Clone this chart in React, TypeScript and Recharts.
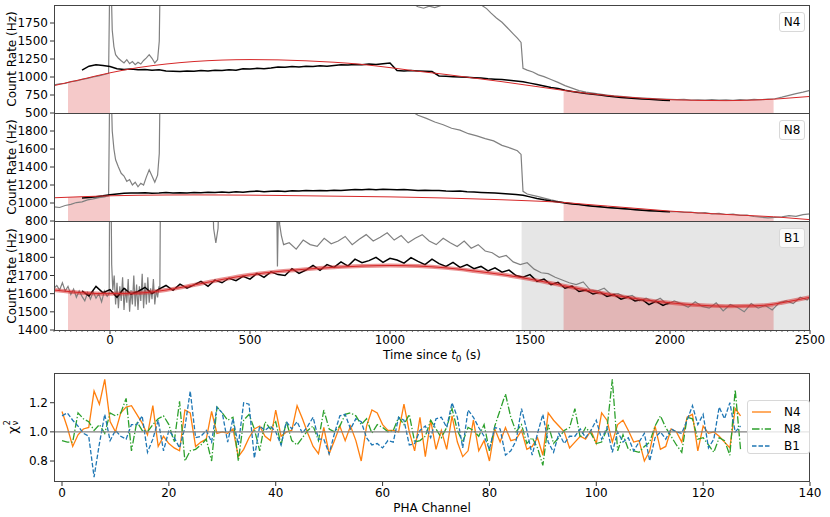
import React from 'react'
import { ComposedChart, Line, Area, XAxis, YAxis, ReferenceArea, ReferenceLine } from 'recharts'

const FONT = '"DejaVu Sans", Verdana, sans-serif'
const RED = '#d62728'
const GRAY = '#808080'

// background-fit intervals (s) and the B1 excluded region
const BKG_INTERVALS = [[-150, 0], [1620, 2370]]
const B1_EXCLUDED = [1470, 2500]

const TIME_TICKS = Array.from({ length: 136 }, (_, i) => -200 + 20 * i)
const N4_TICKS = [500, 750, 1000, 1250, 1500, 1750]
const N8_TICKS = [800, 1000, 1200, 1400, 1600, 1800]
const B1_TICKS = [1400, 1500, 1600, 1700, 1800, 1900]

// background model (red)
const MODEL_T = [-200, -150, -100, -50, 0, 100, 200, 300, 400, 500, 600, 700, 800, 900, 1000, 1100,
  1200, 1300, 1400, 1500, 1600, 1620, 1700, 1800, 1900, 2000, 2100, 2200, 2300, 2370, 2400, 2500]
const N4_MODEL = [880, 925, 968, 1015, 1058, 1130, 1180, 1215, 1235, 1242, 1238, 1225, 1205, 1175, 1130, 1080,
  1035, 985, 935, 880, 825, 815, 775, 735, 705, 685, 675, 672, 680, 692, 700, 730]
const N8_MODEL = [1058, 1064, 1070, 1075, 1080, 1086, 1089, 1090, 1089, 1087, 1084, 1080, 1076, 1072, 1068, 1062,
  1055, 1046, 1036, 1024, 1010, 1006, 985, 960, 935, 910, 890, 873, 858, 847, 840, 815]
const B1_MODEL = [1620, 1612, 1605, 1601, 1600, 1603, 1620, 1648, 1678, 1704, 1722, 1735, 1745, 1752, 1755, 1752,
  1742, 1725, 1705, 1680, 1650, 1644, 1620, 1592, 1568, 1550, 1537, 1531, 1533, 1542, 1550, 1580]

// source-selected light curves (black), 25 s bins
const BLACK_T = Array.from({ length: 85 }, (_, i) => -100 + 25 * i)
const N4_BLACK = [
  1095, 1150, 1170, 1160, 1145, 1115, 1105, 1110, 1100, 1105,
  1095, 1100, 1085, 1080, 1075, 1085, 1080, 1090, 1085, 1095,
  1090, 1100, 1095, 1115, 1110, 1120, 1115, 1125, 1140, 1135,
  1145, 1140, 1150, 1145, 1155, 1150, 1160, 1170, 1165, 1175,
  1170, 1180, 1175, 1185, 1195, 1090, 1085, 1090, 1085, 1080,
  1075, 1015, 1010, 1005, 1000, 995, 990, 985, 975, 970,
  965, 955, 945, 935, 915, 895, 875, 855, 840, 815,
  800, 785, 770, 760, 750, 735, 725, 715, 710, 700,
  695, 690, 685, 678, 672,
]
const N8_BLACK = [
  1055, 1062, 1070, 1080, 1092, 1100, 1108, 1112, 1110, 1115,
  1108, 1112, 1118, 1110, 1115, 1112, 1118, 1115, 1120, 1116,
  1122, 1118, 1125, 1120, 1128, 1132, 1126, 1130, 1134, 1128,
  1136, 1132, 1138, 1135, 1140, 1136, 1142, 1138, 1145, 1150,
  1146, 1152, 1148, 1154, 1150, 1146, 1150, 1145, 1140, 1143,
  1138, 1140, 1134, 1130, 1132, 1126, 1122, 1118, 1114, 1110,
  1105, 1100, 1095, 1085, 1068, 1050, 1035, 1022, 1012, 1000,
  990, 982, 972, 965, 958, 950, 945, 938, 932, 926,
  920, 915, 910, 906, 902,
]
const B1_BLACK = [
  1615, 1588, 1640, 1605, 1622, 1580, 1630, 1598, 1612, 1635,
  1600, 1625, 1645, 1618, 1652, 1630, 1648, 1668, 1640, 1675,
  1660, 1685, 1672, 1695, 1680, 1712, 1690, 1720, 1705, 1700,
  1738, 1712, 1730, 1755, 1728, 1760, 1745, 1775, 1752, 1790,
  1770, 1782, 1800, 1772, 1795, 1785, 1768, 1798, 1778, 1760,
  1790, 1765, 1750, 1772, 1745, 1760, 1738, 1750, 1725, 1742,
  1718, 1730, 1700, 1690, 1705, 1668, 1680, 1650, 1662, 1630,
  1642, 1612, 1620, 1598, 1608, 1585, 1595, 1570, 1582, 1560,
  1568, 1540, 1558, 1535, 1552,
]

// full-band light curves (gray); values above 2000 run off the top
const N4_GRAY_T = [
  -200, -180, -160, -140, -120, -100, -80, -60, -40, -20,
  -5, 0, 4, 8, 14, 20, 30, 40, 50, 60,
  70, 80, 90, 100, 110, 120, 130, 140, 150, 160,
  170, 176, 180, 600, 1050, 1080, 1100, 1120, 1140, 1160,
  1180, 1200, 1260, 1300, 1330, 1345, 1360, 1380, 1400, 1420,
  1440, 1455, 1468, 1475, 1490, 1510, 1530, 1550, 1575, 1600,
  1625, 1650, 1675, 1700, 1725, 1750, 1775, 1800, 1825, 1850,
  1875, 1900, 1925, 1950, 1975, 2000, 2025, 2050, 2075, 2100,
  2125, 2150, 2175, 2200, 2225, 2250, 2275, 2300, 2325, 2350,
  2375, 2400, 2425, 2450, 2475, 2500,
]
const N4_GRAY = [
  890, 905, 912, 935, 945, 968, 980, 1000, 1015, 1035,
  1050, 2600, 2300, 1650, 1420, 1310, 1260, 1225, 1195, 1240,
  1185, 1215, 1170, 1205, 1180, 1230, 1265, 1310, 1260, 1195,
  1240, 1500, 2600, 2600, 2100, 2020, 1975, 1955, 1985, 1965,
  1990, 2060, 2100, 2060, 1990, 1950, 1890, 1820, 1760, 1680,
  1600, 1540, 1480, 1120, 1095, 1070, 1030, 1005, 965, 925,
  880, 845, 810, 790, 775, 762, 750, 738, 730, 722,
  715, 708, 703, 698, 692, 688, 685, 690, 680, 684,
  678, 686, 680, 683, 677, 685, 680, 688, 684, 692,
  698, 720, 745, 770, 790, 815,
]
const N8_GRAY_T = [
  -200, -180, -160, -140, -120, -100, -80, -60, -40, -20,
  -5, 0, 4, 8, 14, 20, 30, 40, 50, 60,
  70, 80, 90, 100, 110, 120, 130, 140, 150, 160,
  170, 176, 180, 600, 1040, 1070, 1100, 1130, 1160, 1190,
  1220, 1250, 1280, 1310, 1340, 1370, 1400, 1430, 1455, 1468,
  1475, 1490, 1510, 1530, 1550, 1575, 1600, 1625, 1650, 1675,
  1700, 1725, 1750, 1775, 1800, 1825, 1850, 1875, 1900, 1925,
  1950, 1975, 2000, 2025, 2050, 2075, 2100, 2125, 2150, 2175,
  2200, 2225, 2250, 2275, 2300, 2325, 2350, 2375, 2400, 2425,
  2450, 2475, 2500,
]
const N8_GRAY = [
  958, 950, 972, 985, 1005, 1012, 1035, 1045, 1060, 1068,
  1080, 2600, 2300, 1800, 1600, 1480, 1400, 1330, 1300, 1240,
  1260, 1200, 1230, 1180, 1220, 1200, 1290, 1370, 1300, 1230,
  1310, 1550, 2600, 2600, 2100, 2030, 1975, 1940, 1900, 1870,
  1830, 1810, 1770, 1745, 1715, 1690, 1640, 1610, 1580, 1540,
  1130, 1100, 1085, 1070, 1055, 1035, 1018, 1005, 995, 985,
  972, 965, 958, 950, 945, 938, 932, 928, 922, 915,
  912, 906, 903, 905, 895, 898, 888, 892, 880, 884,
  872, 876, 862, 866, 850, 842, 835, 840, 845, 860,
  852, 870, 880,
]
const B1_GRAY_T = [
  -200, -190, -180, -170, -160, -150, -140, -130, -120, -110,
  -100, -90, -80, -70, -60, -50, -40, -30, -20, -10,
  -3, 0, 3, 6, 10, 15, 20, 25, 30, 35,
  40, 45, 50, 55, 60, 65, 70, 75, 80, 85,
  90, 95, 100, 105, 110, 115, 120, 125, 130, 135,
  140, 145, 150, 155, 160, 165, 170, 175, 178, 182,
  360, 370, 378, 386, 396, 592, 598, 602, 606, 612,
  620, 640, 665, 690, 715, 740, 765, 790, 815, 840,
  865, 890, 915, 940, 965, 990, 1015, 1040, 1065, 1090,
  1115, 1140, 1165, 1190, 1215, 1240, 1265, 1290, 1315, 1340,
  1365, 1390, 1415, 1440, 1465, 1490, 1515, 1540, 1565, 1590,
  1615, 1640, 1665, 1690, 1715, 1740, 1765, 1790, 1815, 1840,
  1865, 1890, 1915, 1940, 1965, 1990, 2015, 2040, 2065, 2090,
  2115, 2140, 2165, 2190, 2215, 2240, 2265, 2290, 2315, 2340,
  2365, 2390, 2415, 2440, 2465, 2490, 2500,
]
const B1_GRAY = [
  1630, 1645, 1620, 1660, 1615, 1640, 1595, 1625, 1580, 1615,
  1585, 1560, 1605, 1570, 1610, 1575, 1600, 1555, 1615, 1585,
  1600, 2600, 2300, 1760, 1620, 1700, 1540, 1660, 1520, 1640,
  1560, 1690, 1510, 1630, 1550, 1680, 1500, 1620, 1540, 1700,
  1530, 1650, 1510, 1640, 1560, 1710, 1520, 1660, 1540, 1690,
  1550, 1630, 1570, 1680, 1540, 1620, 1580, 1640, 1620, 2600,
  2600, 1960, 1880, 1960, 2600, 2600, 1750, 2100, 1980, 1920,
  1870, 1880, 1845, 1895, 1870, 1860, 1905, 1875, 1890, 1915,
  1870, 1900, 1925, 1890, 1910, 1935, 1895, 1920, 1880, 1905,
  1925, 1890, 1870, 1905, 1880, 1860, 1890, 1850, 1870, 1835,
  1825, 1800, 1810, 1775, 1760, 1770, 1735, 1715, 1710, 1690,
  1675, 1660, 1650, 1665, 1620, 1615, 1630, 1595, 1600, 1580,
  1590, 1560, 1575, 1555, 1575, 1540, 1560, 1545, 1525, 1555,
  1530, 1520, 1550, 1505, 1540, 1525, 1500, 1545, 1520, 1535,
  1510, 1550, 1560, 1545, 1580, 1565, 1585,
]

// reduced chi-square per PHA channel
const CHANNELS = Array.from({ length: 128 }, (_, i) => i)
const PHA_TICKS = [0, 20, 40, 60, 80, 100, 120, 140]
const CHI_TICKS = [0.8, 1.0, 1.2]
const N4_CHI = [
  1.14, 1.03, 0.90, 0.98, 1.02, 1.03, 1.28, 1.19, 1.36, 1.07,
  1.00, 1.13, 1.17, 1.18, 1.12, 1.06, 0.98, 1.18, 0.90, 0.97,
  0.92, 0.89, 0.87, 1.15, 1.13, 0.90, 0.93, 0.95, 1.14, 0.99,
  1.00, 0.99, 1.02, 0.83, 0.88, 0.96, 1.02, 1.04, 0.97, 0.94,
  1.15, 0.97, 1.00, 1.01, 1.18, 1.09, 0.99, 0.90, 0.85, 1.03,
  0.85, 0.94, 1.04, 0.94, 1.04, 0.94, 0.80, 1.04, 1.15, 1.13,
  1.05, 1.01, 1.01, 1.00, 1.19, 1.00, 0.87, 1.10, 0.83, 1.08,
  0.88, 1.01, 0.88, 1.11, 0.93, 0.83, 0.87, 1.08, 0.87, 0.94,
  0.80, 1.02, 0.93, 1.03, 0.94, 0.95, 1.01, 0.88, 0.90, 0.96,
  0.84, 1.13, 1.08, 1.04, 1.00, 0.89, 0.93, 0.97, 0.95, 1.01,
  0.92, 1.13, 1.08, 0.93, 1.05, 1.08, 1.01, 0.93, 0.94, 0.80,
  0.87, 1.04, 0.88, 0.90, 1.02, 1.00, 0.93, 1.10, 1.12, 0.87,
  1.04, 0.99, 1.00, 0.97, 0.93, 0.89, 1.16, 1.11,
]
const N8_CHI = [
  0.94, 0.93, 0.93, 1.13, 1.09, 1.07, 1.01, 1.05, 0.99, 1.13,
  1.11, 1.13, 1.23, 0.87, 1.07, 1.01, 1.00, 1.05, 1.09, 1.11,
  1.05, 0.93, 1.21, 0.80, 0.87, 0.88, 0.91, 0.95, 0.80, 1.17,
  1.13, 1.08, 1.10, 0.80, 1.08, 1.12, 1.02, 0.87, 1.07, 1.02,
  1.07, 0.91, 1.07, 0.94, 0.91, 0.96, 1.01, 1.04, 0.94, 1.15,
  1.02, 1.00, 1.04, 1.12, 1.13, 1.11, 1.05, 1.09, 0.99, 1.05,
  1.03, 1.00, 1.01, 1.10, 1.05, 1.12, 0.93, 0.94, 0.97, 1.08,
  1.02, 0.96, 1.03, 1.16, 1.01, 0.93, 1.03, 1.01, 0.97, 1.05,
  0.87, 1.04, 1.15, 1.26, 1.10, 1.00, 1.05, 0.92, 0.96, 0.89,
  0.77, 1.05, 0.92, 0.96, 1.01, 1.03, 1.16, 0.96, 1.03, 0.99,
  0.92, 0.93, 1.02, 1.36, 0.87, 0.98, 0.88, 0.87, 0.86, 0.90,
  0.93, 1.04, 1.11, 1.03, 0.97, 0.91, 0.86, 1.10, 1.09, 0.95,
  0.96, 0.91, 0.86, 0.96, 0.94, 0.84, 1.29, 0.88,
]
const B1_CHI = [
  1.11, 1.13, 1.08, 1.04, 0.99, 0.97, 0.69, 0.92, 1.12, 0.94,
  1.01, 0.97, 0.95, 1.05, 1.05, 1.11, 0.86, 0.95, 1.08, 0.87,
  1.01, 0.96, 0.89, 1.03, 1.28, 0.96, 0.97, 1.01, 0.93, 1.17,
  1.13, 0.93, 1.09, 0.91, 1.20, 1.19, 0.82, 1.04, 1.01, 1.04,
  1.00, 0.91, 1.07, 1.02, 1.07, 0.99, 1.04, 1.10, 0.95, 0.95,
  0.85, 0.99, 1.11, 1.12, 1.02, 1.09, 1.07, 0.96, 0.91, 0.92,
  0.89, 0.94, 0.93, 1.10, 1.08, 0.91, 0.92, 1.01, 1.04, 0.96,
  1.09, 1.10, 1.03, 1.20, 1.10, 0.89, 1.15, 1.10, 1.03, 0.97,
  0.88, 1.03, 1.02, 0.84, 0.87, 0.94, 1.16, 1.01, 0.84, 0.99,
  1.12, 0.93, 0.86, 0.99, 0.92, 0.97, 0.97, 1.02, 0.96, 1.01,
  1.08, 0.95, 1.03, 0.86, 1.00, 0.93, 0.96, 0.87, 0.93, 0.99,
  0.80, 0.96, 1.00, 0.95, 1.02, 1.00, 0.99, 1.08, 1.18, 1.05,
  1.12, 0.89, 0.95, 1.17, 1.09, 1.20, 1.00, 1.04,
]

const pts = (t: number[], v: number[]) => t.map((x, i) => ({ t: x, v: v[i] }))
const chiRows = (v: number[]) => CHANNELS.map((c, i) => ({ c, v: v[i] }))

const tickStyle = { fontSize: 12, fill: '#000', fontFamily: FONT }

const TimeTick = ({ x, y, payload }: any) => {
  const major = payload.value % 500 === 0
  return (
    <g>
      <line x1={x} x2={x} y1={y} y2={y + (major ? 4 : 2)} stroke="#333" strokeWidth={major ? 1 : 0.7} />
      {major && (
        <text x={x} y={y + 14} textAnchor="middle" fontSize={12} fontFamily={FONT} fill="#000">
          {payload.value}
        </text>
      )}
    </g>
  )
}

function LightCurvePanel({ top, yDomain, yTicks, gray, black, model, name, showTime, excluded, band }: any) {
  const plotH = showTime ? 109 : 108
  const bottom = showTime ? 0 : 10
  const height = 5 + plotH + (showTime ? 40 : bottom)
  const bkg = BKG_INTERVALS.map(([a, b]) => model.filter((p: any) => p.t >= a && p.t <= b))
  return (
    <div style={{ position: 'absolute', left: 0, top }}>
      <ComposedChart width={830} height={height} margin={{ top: 5, right: 20, bottom, left: 0 }}>
        <XAxis
          type="number"
          dataKey="t"
          domain={[-200, 2500]}
          allowDataOverflow
          hide={!showTime}
          ticks={TIME_TICKS}
          interval={0}
          tick={<TimeTick />}
          tickSize={0}
          tickMargin={0}
          tickLine={false}
          axisLine={false}
          height={40}
        />
        <YAxis
          type="number"
          domain={yDomain}
          allowDataOverflow
          ticks={yTicks}
          interval={0}
          width={54}
          tick={tickStyle}
          tickSize={4}
          tickMargin={2}
          tickLine={{ stroke: '#333' }}
          axisLine={false}
        />
        {excluded && (
          <ReferenceArea x1={excluded[0]} x2={excluded[1]} fill={GRAY} fillOpacity={0.2} stroke="none" />
        )}
        {bkg.map((d: any, i: number) => (
          <Area
            key={i}
            data={d}
            dataKey="v"
            type="linear"
            baseValue={yDomain[0]}
            fill={RED}
            fillOpacity={0.25}
            stroke="none"
            isAnimationActive={false}
          />
        ))}
        <Line data={gray} dataKey="v" type="linear" stroke={GRAY} strokeWidth={1.2} dot={false} isAnimationActive={false} />
        <Line data={black} dataKey="v" type="linear" stroke="#000" strokeWidth={1.5} dot={false} isAnimationActive={false} />
        {band && (
          <Line data={model} dataKey="v" type="monotone" stroke={RED} strokeOpacity={0.5} strokeWidth={4} dot={false} isAnimationActive={false} />
        )}
        <Line data={model} dataKey="v" type="monotone" stroke={RED} strokeWidth={1} dot={false} isAnimationActive={false} />
      </ComposedChart>
      <div
        style={{
          position: 'absolute', left: 779, top: 12, width: 26, height: 20, boxSizing: 'border-box',
          border: '1px solid #d8d8d8', borderRadius: 3, background: 'rgba(255,255,255,0.8)',
          font: `12px ${FONT}`, display: 'flex', alignItems: 'center', justifyContent: 'center', color: '#000',
        }}
      >
        {name}
      </div>
    </div>
  )
}

const frame = (left: number, top: number, width: number, height: number) => (
  <div
    style={{
      position: 'absolute', left, top, width, height, boxSizing: 'border-box',
      border: '1px solid #444', pointerEvents: 'none',
    }}
  />
)

const vLabel = (cx: number, cy: number, content: React.ReactNode) => (
  <div
    style={{
      position: 'absolute', left: cx, top: cy, transform: 'translate(-50%, -50%) rotate(-90deg)',
      whiteSpace: 'nowrap', font: `12px ${FONT}`, color: '#000',
    }}
  >
    {content}
  </div>
)

const LEGEND = [
  { name: 'N4', color: '#ff7f0e', dash: undefined },
  { name: 'N8', color: '#2ca02c', dash: '7.5 2 1.3 2' },
  { name: 'B1', color: '#1f77b4', dash: '4.5 2' },
]

export default function App() {
  return (
    <div style={{ position: 'absolute', left: 0, top: 0, width: 830, height: 517, background: '#fff', fontFamily: FONT }}>
      <LightCurvePanel top={0} yDomain={[500, 2000]} yTicks={N4_TICKS} name="N4"
        gray={pts(N4_GRAY_T, N4_GRAY)} black={pts(BLACK_T, N4_BLACK)} model={pts(MODEL_T, N4_MODEL)} />
      <LightCurvePanel top={108} yDomain={[800, 2000]} yTicks={N8_TICKS} name="N8"
        gray={pts(N8_GRAY_T, N8_GRAY)} black={pts(BLACK_T, N8_BLACK)} model={pts(MODEL_T, N8_MODEL)} />
      <LightCurvePanel top={216} yDomain={[1400, 2000]} yTicks={B1_TICKS} name="B1" showTime excluded={B1_EXCLUDED} band
        gray={pts(B1_GRAY_T, B1_GRAY)} black={pts(BLACK_T, B1_BLACK)} model={pts(MODEL_T, B1_MODEL)} />

      {frame(54, 5, 756, 109)}
      {frame(54, 113, 756, 109)}
      {frame(54, 221, 756, 110)}

      {vLabel(12, 59, 'Count Rate (Hz)')}
      {vLabel(12, 167, 'Count Rate (Hz)')}
      {vLabel(12, 276, 'Count Rate (Hz)')}
      <div style={{ position: 'absolute', left: 432, top: 355, transform: 'translate(-50%, -50%)', font: `12px ${FONT}`, whiteSpace: 'nowrap', lineHeight: '14px' }}>
        Time since <i>t</i><sub style={{ fontSize: 9, lineHeight: 0 }}>0</sub> (s)
      </div>

      <div style={{ position: 'absolute', left: 0, top: 368 }}>
        <ComposedChart width={830} height={154} margin={{ top: 5, right: 20, bottom: 0, left: 0 }}>
          <XAxis
            type="number"
            dataKey="c"
            domain={[-1.5, 140]}
            allowDataOverflow
            ticks={PHA_TICKS}
            interval={0}
            tick={tickStyle}
            tickSize={4}
            tickMargin={2}
            tickLine={{ stroke: '#333' }}
            axisLine={false}
            height={40}
          />
          <YAxis
            type="number"
            domain={[0.656, 1.404]}
            allowDataOverflow
            ticks={CHI_TICKS}
            interval={0}
            width={54}
            tick={tickStyle}
            tickFormatter={(v: number) => v.toFixed(1)}
            tickSize={4}
            tickMargin={2}
            tickLine={{ stroke: '#333' }}
            axisLine={false}
          />
          <Line data={chiRows(N4_CHI)} dataKey="v" stroke="#ff7f0e" strokeWidth={1.3} dot={false} isAnimationActive={false} />
          <Line data={chiRows(N8_CHI)} dataKey="v" stroke="#2ca02c" strokeWidth={1.3} strokeDasharray="7.5 2 1.3 2" dot={false} isAnimationActive={false} />
          <Line data={chiRows(B1_CHI)} dataKey="v" stroke="#1f77b4" strokeWidth={1.3} strokeDasharray="4.5 2" dot={false} isAnimationActive={false} />
          <ReferenceLine y={1} stroke={GRAY} strokeWidth={1.3} />
        </ComposedChart>
      </div>
      {frame(54, 373, 756, 109)}
      {vLabel(12, 427, (
        <span style={{ display: 'inline-flex', alignItems: 'center' }}>
          <span style={{ fontSize: 13 }}>χ</span>
          <span style={{ display: 'inline-flex', flexDirection: 'column', fontSize: 8, lineHeight: '8px', marginLeft: 1 }}>
            <span>2</span>
            <span>ν</span>
          </span>
        </span>
      ))}
      <div style={{ position: 'absolute', left: 432, top: 508, transform: 'translate(-50%, -50%)', font: `12px ${FONT}`, whiteSpace: 'nowrap' }}>
        PHA Channel
      </div>

      <div
        style={{
          position: 'absolute', left: 747, top: 400, width: 63, height: 54, boxSizing: 'border-box',
          border: '1px solid #d8d8d8', borderRadius: 3, background: 'rgba(255,255,255,0.8)', padding: '2px 0',
        }}
      >
        {LEGEND.map((l) => (
          <div key={l.name} style={{ display: 'flex', alignItems: 'center', height: 17, font: `12px ${FONT}` }}>
            <svg width={34} height={10} style={{ marginLeft: 3 }}>
              <line x1={1} x2={20} y1={5} y2={5} stroke={l.color} strokeWidth={1.3} strokeDasharray={l.dash} />
            </svg>
            <span style={{ marginLeft: -1 }}>{l.name}</span>
          </div>
        ))}
      </div>
    </div>
  )
}
